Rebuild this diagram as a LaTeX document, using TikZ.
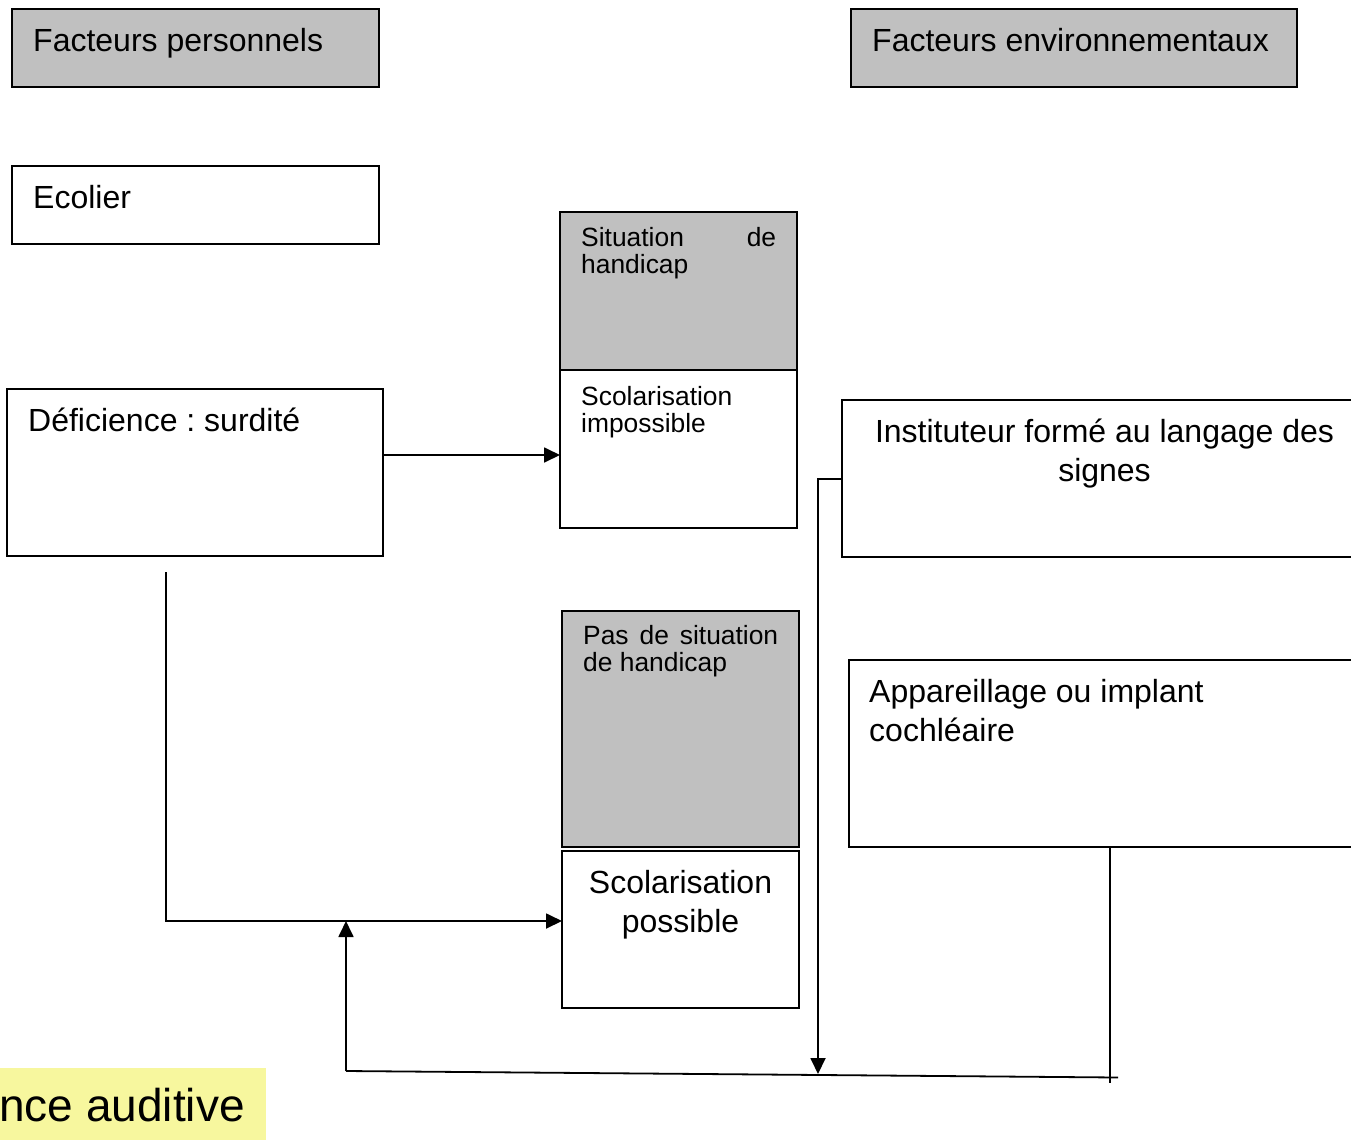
\documentclass[tikz,border=0pt]{standalone}
\usepackage{fontspec}
\setmainfont{Liberation Sans}
\frenchspacing
\usetikzlibrary{arrows.meta}
\definecolor{boxgray}{HTML}{C0C0C0}
\definecolor{hilite}{HTML}{F7F79E}
\begin{document}
\begin{tikzpicture}[x=1pt,y=-1pt,
 box/.style={draw=black,line width=1.8pt,inner sep=0pt,outer sep=0pt,anchor=north west},
 gbox/.style={box,fill=boxgray},
 big/.style={font=\fontsize{32}{39}\selectfont\frenchspacing,inner sep=0pt,anchor=base west},
 small/.style={font=\fontsize{26.4}{27}\selectfont\frenchspacing,inner sep=0pt,anchor=base west},
 link/.style={line width=1.8pt},
 arr/.style={link,-{Triangle[length=16pt,width=15pt]}}]
\useasboundingbox (0,0) rectangle (1351,1140);
% boxes
\node[gbox,minimum width=367pt,minimum height=78pt] (fp) at (12,9) {};
\node[gbox,minimum width=446pt,minimum height=78pt] (fe) at (851,9) {};
\node[box,minimum width=367pt,minimum height=78pt] (eco) at (12,166) {};
\node[box,minimum width=376pt,minimum height=167pt] (def) at (7,389) {};
\node[gbox,minimum width=237pt,minimum height=158pt] (sh) at (560,212) {};
\node[box,minimum width=237pt,minimum height=158pt] (si) at (560,370) {};
\node[gbox,minimum width=237pt,minimum height=236pt] (ps) at (562,611) {};
\node[box,minimum width=237pt,minimum height=157pt] (sp) at (562,851) {};
\node[box,minimum width=530pt,minimum height=157pt] (inst) at (842,400) {};
\node[box,minimum width=520pt,minimum height=187pt] (app) at (849,660) {};
\node[fill=hilite,inner sep=0pt,outer sep=0pt,anchor=north west,minimum width=266pt,minimum height=72pt] (hl) at (0,1068) {};
% texts
\node[big] (tfp) at (33,52) {Facteurs personnels};
\node[big] (tfe) at (872,52) {Facteurs environnementaux};
\node[big] (teco) at (33,208) {Ecolier};
\node[big] (tdef) at (28,431) {Déficience : surdité};
\node[small] (tsh1) at (581,246) {\makebox[195pt][s]{Situation de}};
\node[small] (tsh2) at (581,273) {handicap};
\node[small] (tsi1) at (581,405) {Scolarisation};
\node[small] (tsi2) at (581,432) {impossible};
\node[small] (tps1) at (583,644) {\makebox[195pt][s]{Pas de situation}};
\node[small] (tps2) at (583,671) {de handicap};
\node[big,anchor=base] (tsp1) at (680.5,893) {Scolarisation};
\node[big,anchor=base] (tsp2) at (680.5,932) {possible};
\node[big,anchor=base] (tin1) at (1104.5,442) {Instituteur formé au langage des};
\node[big,anchor=base] (tin2) at (1104.5,481) {signes};
\node[big] (tap1) at (869,702) {Appareillage ou implant};
\node[big] (tap2) at (869,741) {cochléaire};
\node[font=\fontsize{46}{52}\selectfont,inner sep=0pt,anchor=base east] (thl) at (245,1121) {nce auditive};
% connectors
\draw[arr] (def.east |- 0,455) -- (si.west |- 0,455);
\coordinate (d0) at (166,572);
\draw[arr] (d0) |- (sp.west |- 0,921);
\coordinate (b0) at (346,1071);
\coordinate (j2) at (346,921);
\draw[arr] (b0) -- (j2);
\coordinate (b1) at (1118,1077.5);
\draw[link] (b0) -- (b1);
\coordinate (t1) at (1110,1083);
\draw[link] (app.south -| 1110,0) -- (t1);
\coordinate (k0) at (818,479);
\coordinate (k1) at (818,1074);
\draw[arr] (inst.west |- 0,479) -- (k0) -- (k1);
\end{tikzpicture}
\end{document}
